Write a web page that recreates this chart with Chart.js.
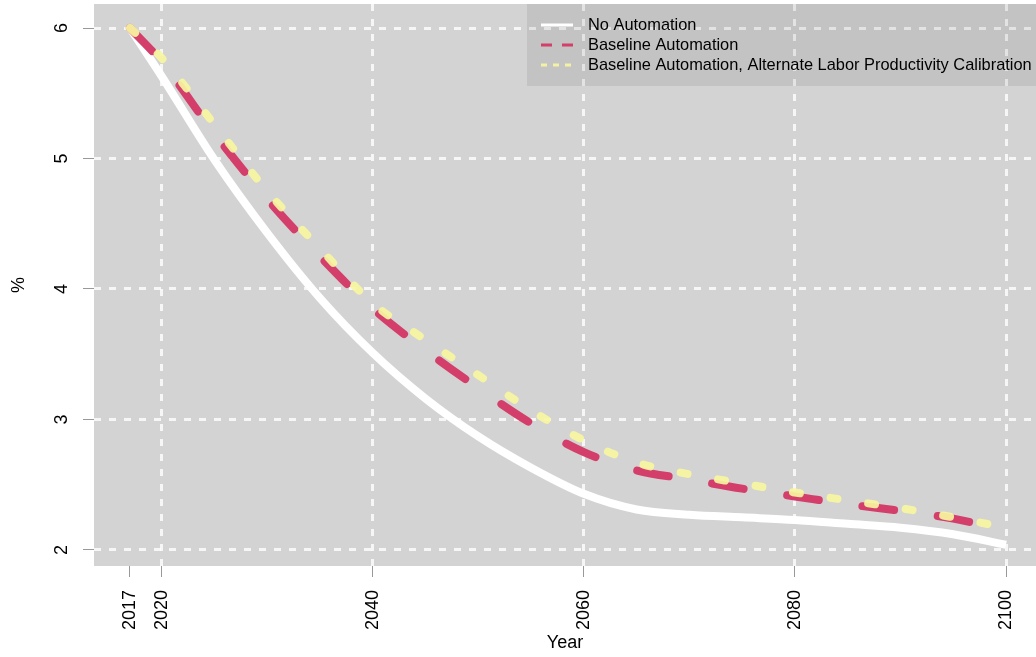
<!DOCTYPE html>
<html>
<head>
<meta charset="utf-8">
<script src="https://cdn.jsdelivr.net/npm/chart.js@4"></script>
<style>
  body { margin: 0; background: #fff; }
  #wrap { width: 1036px; height: 657px; }
</style>
</head>
<body>
<div id="wrap"><canvas id="chart"></canvas></div>
<script>
const years = [2017, 2020, 2025, 2030, 2035, 2040, 2045, 2050, 2055, 2060, 2065, 2070, 2075, 2080, 2085, 2090, 2095, 2100];
const noAutomation = [6.00, 5.63, 4.99, 4.43, 3.93, 3.51, 3.16, 2.87, 2.63, 2.43, 2.31, 2.27, 2.25, 2.23, 2.20, 2.17, 2.12, 2.04];
const baselineAutomation = [6.00, 5.74, 5.19, 4.69, 4.25, 3.85, 3.53, 3.24, 2.97, 2.75, 2.61, 2.54, 2.47, 2.41, 2.35, 2.30, 2.24, 2.15];
const alternateCalibration = [6.00, 5.77, 5.26, 4.75, 4.31, 3.89, 3.61, 3.34, 3.07, 2.84, 2.67, 2.58, 2.51, 2.44, 2.38, 2.32, 2.25, 2.17];
const seriesLabels = ['No Automation', 'Baseline Automation', 'Baseline Automation, Alternate Labor Productivity Calibration'];
const xTicks = [2017, 2020, 2040, 2060, 2080, 2100];
const yTicks = [2, 3, 4, 5, 6];

const FONT = '"Liberation Sans", Arial, sans-serif';
const toPoints = vals => years.map((x, i) => ({ x, y: vals[i] }));

// gray panel behind the plot
const panelBg = {
  id: 'panelBg',
  beforeDraw(chart) {
    const { ctx, chartArea: a } = chart;
    ctx.save();
    ctx.fillStyle = '#d3d3d3';
    ctx.fillRect(a.left, a.top, a.right - a.left, a.bottom - a.top);
    ctx.restore();
  }
};

// rotated y tick labels
const yLabels = {
  id: 'yLabels',
  afterDraw(chart) {
    const { ctx } = chart;
    const y = chart.scales.y;
    ctx.save();
    ctx.font = '18px ' + FONT;
    ctx.fillStyle = '#000';
    ctx.textAlign = 'center';
    ctx.textBaseline = 'middle';
    yTicks.forEach(v => {
      ctx.save();
      ctx.translate(62, y.getPixelForValue(v));
      ctx.rotate(-Math.PI / 2);
      ctx.fillText(String(v), 0, 0);
      ctx.restore();
    });
    ctx.restore();
  }
};

// legend box in the top right corner
const boxLegend = {
  id: 'boxLegend',
  afterDraw(chart) {
    const { ctx, chartArea: a } = chart;
    const dashes = [[], [11, 10], [6, 6]];
    ctx.save();
    ctx.fillStyle = 'rgba(0,0,0,0.075)';
    ctx.fillRect(527, a.top, a.right - 527, 82);
    ctx.font = '16.4px ' + FONT;
    ctx.textBaseline = 'middle';
    chart.data.datasets.forEach((ds, i) => {
      const ly = 25 + i * 20;
      ctx.strokeStyle = ds.borderColor;
      ctx.lineWidth = 3;
      ctx.setLineDash(dashes[i]);
      ctx.beginPath();
      ctx.moveTo(541, ly);
      ctx.lineTo(573, ly);
      ctx.stroke();
      ctx.fillStyle = '#000';
      ctx.fillText(ds.label, 588, ly);
    });
    ctx.restore();
  }
};

new Chart(document.getElementById('chart').getContext('2d'), {
  type: 'line',
  data: {
    datasets: [{
      label: seriesLabels[0],
      data: toPoints(noAutomation),
      borderColor: '#ffffff',
      borderWidth: 8,
      cubicInterpolationMode: 'monotone',
      pointRadius: 0,
      order: 3
    }, {
      label: seriesLabels[1],
      data: toPoints(baselineAutomation),
      borderColor: '#d33f6a',
      borderWidth: 8,
      borderDash: [32, 44],
      borderCapStyle: 'round',
      cubicInterpolationMode: 'monotone',
      pointRadius: 0,
      order: 2
    }, {
      label: seriesLabels[2],
      data: toPoints(alternateCalibration),
      borderColor: 'rgba(247,245,160,0.92)',
      borderWidth: 8,
      borderDash: [7, 31],
      borderCapStyle: 'round',
      cubicInterpolationMode: 'monotone',
      pointRadius: 0,
      order: 1
    }]
  },
  options: {
    responsive: true,
    maintainAspectRatio: false,
    animation: false,
    layout: { padding: { top: 4, right: 0, left: 0, bottom: 0 } },
    scales: {
      x: {
        type: 'linear',
        min: 2013.59,
        max: 2102.84,
        afterBuildTicks: s => { s.ticks = xTicks.map(v => ({ value: v })); },
        afterFit: s => { s.height = 91; s.paddingLeft = 0; s.paddingRight = 0; },
        border: { display: false, dash: [7, 8] },
        grid: {
          color: c => (c.tick && c.tick.value === 2017) ? 'rgba(0,0,0,0)' : 'rgba(255,255,255,0.8)',
          lineWidth: 3,
          tickColor: '#999',
          tickWidth: 1,
          tickLength: 11
        },
        ticks: {
          minRotation: 90,
          maxRotation: 90,
          padding: 13,
          color: '#000',
          font: { family: FONT, size: 18 },
          callback: v => String(v)
        },
        title: {
          display: true,
          text: 'Year',
          color: '#000',
          font: { family: FONT, size: 18 },
          padding: { top: 0, bottom: 3 }
        }
      },
      y: {
        min: 1.877,
        max: 6.184,
        afterBuildTicks: s => { s.ticks = yTicks.map(v => ({ value: v })); },
        afterFit: s => { s.width = 94; s.paddingTop = 0; s.paddingBottom = 0; },
        border: { display: false, dash: [7, 8] },
        grid: {
          color: 'rgba(255,255,255,0.8)',
          lineWidth: 3,
          tickColor: '#999',
          tickWidth: 1,
          tickLength: 11
        },
        ticks: { display: false },
        title: {
          display: true,
          text: '%',
          color: '#000',
          font: { family: FONT, size: 18 },
          padding: { top: 8, bottom: 0 }
        }
      }
    },
    plugins: {
      legend: { display: false },
      tooltip: { enabled: false }
    }
  },
  plugins: [panelBg, yLabels, boxLegend]
});
</script>
</body>
</html>
